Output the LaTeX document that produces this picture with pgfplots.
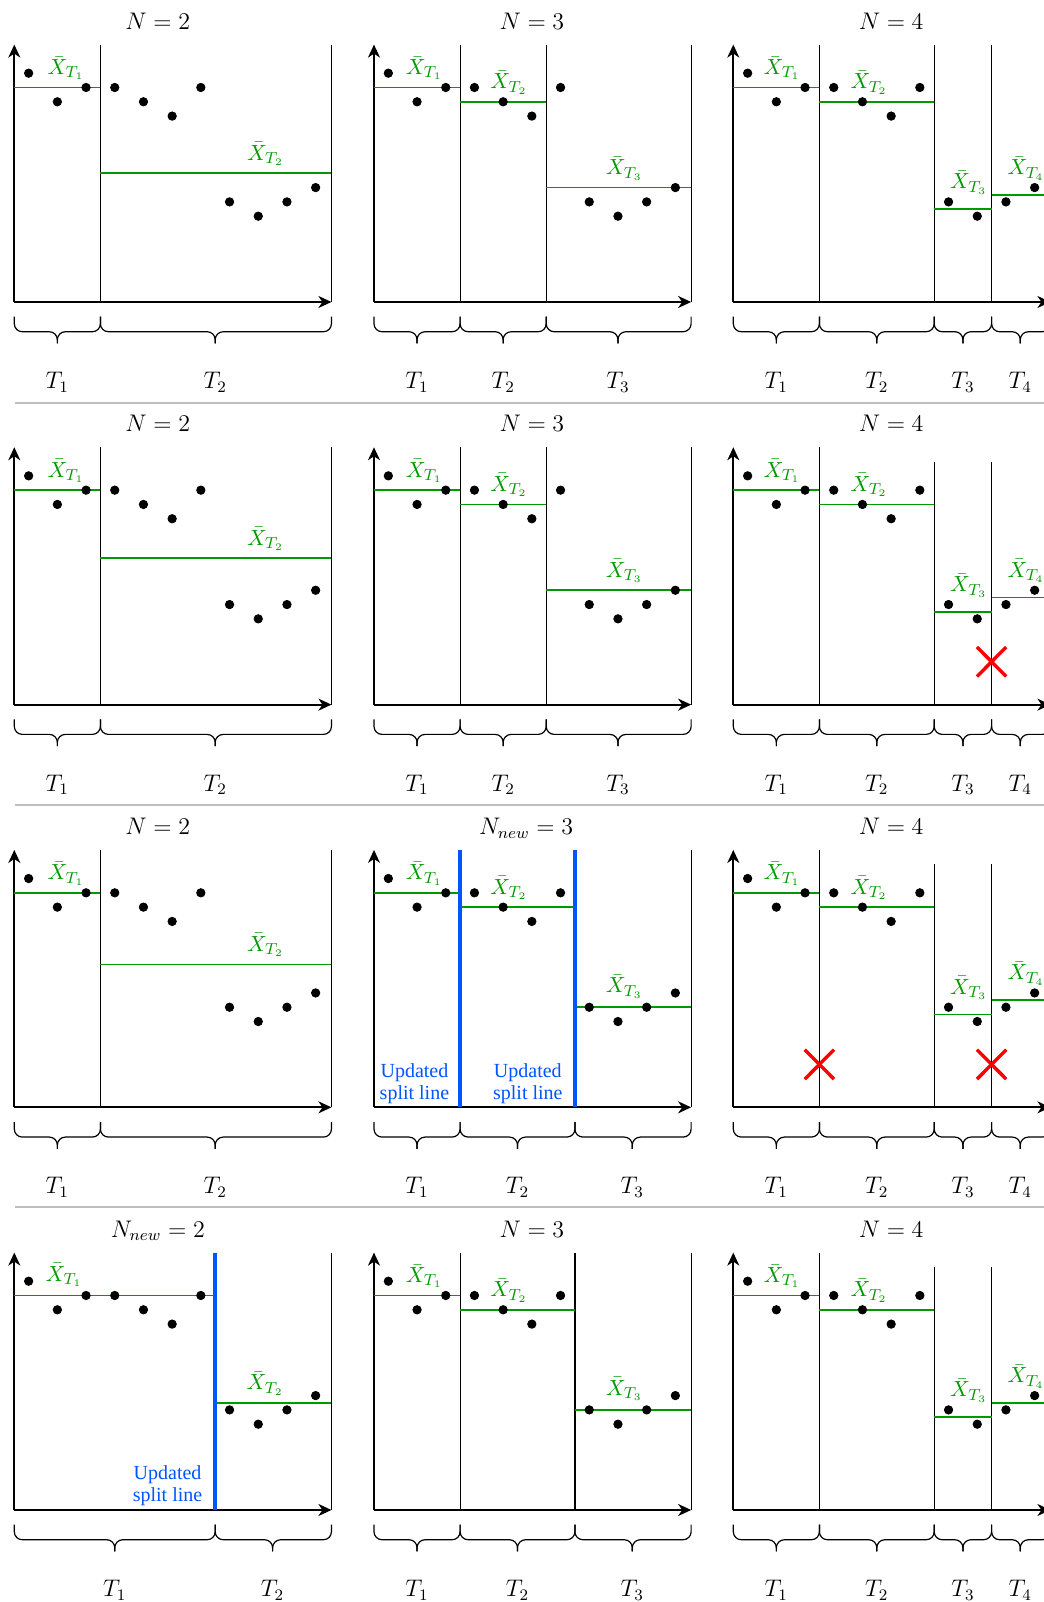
\documentclass[border=0pt]{standalone}
\usepackage{fontspec}
\usepackage{pgfplots}
\pgfplotsset{compat=1.18}
\usepackage{pgfplotstable}
\usetikzlibrary{arrows.meta}
\newfontfamily\timesf{Liberation Serif}
\definecolor{mygreen}{RGB}{0,153,0}
\definecolor{myblue}{RGB}{0,85,255}
\definecolor{sepgray}{RGB}{190,190,190}

\pgfplotstableread{
x y
0.5 16
1.5 14
2.5 15
3.5 15
4.5 14
5.5 13
6.5 15
7.5 7
8.5 6
9.5 7
10.5 8
}\pts

\pgfplotsset{panel/.style={x=14.35pt, y=7.15pt, xmin=0, xmax=11.05, ymin=0, ymax=18,
  hide axis, clip=false, anchor=south west}}

\newcommand{\paxes}{%
 \addplot[black, line width=0.9pt, -{Stealth[length=6.5pt,width=6pt,inset=2pt]}] coordinates {(0,0) (0,18)};
 \addplot[black, line width=0.9pt, -{Stealth[length=6.5pt,width=6pt,inset=2pt]}] coordinates {(0,0) (11.05,0)};
 \addplot[black, line width=0.6pt] coordinates {(11.05,0) (11.05,18)};
}
\newcommand{\pdots}{\addplot[only marks, mark=*, mark size=2.1pt, black] table {\pts};}
\newcommand{\spl}[2]{\addplot[black, line width=0.6pt] coordinates {(#1,0) (#1,#2)};}
\newcommand{\bspl}[1]{\addplot[myblue, line width=1.8pt] coordinates {(#1,0) (#1,18)};}
\newcommand{\mean}[3]{\addplot[mygreen, line width=0.8pt] coordinates {(#1,#3) (#2,#3)};}
\newcommand{\glab}[3]{\node[anchor=south, inner sep=0pt, text=mygreen, font=\fontsize{11}{13}\selectfont] at (axis cs:#1,#2) {$\bar{X}_{T_{#3}}$};}
\newcommand{\tbrace}[4]{%
 \draw[line width=0.6pt, rounded corners=4pt] (axis cs:#1,-1.03) -- (axis cs:#1,-2.08) -- (axis cs:#3,-2.08) -- (axis cs:#3,-2.9);
 \draw[line width=0.6pt, rounded corners=4pt] (axis cs:#2,-1.03) -- (axis cs:#2,-2.08) -- (axis cs:#3,-2.08) -- (axis cs:#3,-2.9);
 \node[anchor=base, inner sep=0pt, font=\fontsize{11.5}{13}\selectfont] at (axis cs:#3,-6.05) {$T_{#4}$};}
\newcommand{\ptitle}[2]{\node[anchor=base, inner sep=0pt, font=\fontsize{11.5}{13}\selectfont] at (axis cs:#1,19.07) {$#2$};}
\newcommand{\btext}[2]{\node[anchor=south, inner sep=0pt, align=center, text=myblue, font=\timesf\fontsize{10}{11.3}\selectfont] at (axis cs:#1,#2) {Updated\\split line};}

\begin{document}
\begin{tikzpicture}
\path[use as bounding box] (0,0) rectangle (522pt,801pt);

% separators
\draw[sepgray, line width=1pt] (7.5pt,599.7pt) -- (522pt,599.7pt);
\draw[sepgray, line width=1pt] (7.5pt,398.5pt) -- (522pt,398.5pt);
\draw[sepgray, line width=1pt] (7.5pt,197.7pt) -- (522pt,197.7pt);

%================ ROW 1 ================
\begin{axis}[panel, at={(7.15pt,650pt)}]
 \paxes
 \spl{3}{18}
 \mean{0}{3}{15} \mean{3}{11.05}{9}
 \pdots
 \glab{1.8}{15.5}{1} \glab{8.75}{9.5}{2}
 \tbrace{0}{3}{1.5}{1} \tbrace{3}{11.05}{7}{2}
 \ptitle{5.0}{N=2}
\end{axis}
\begin{axis}[panel, at={(187pt,650pt)}]
 \paxes
 \spl{3}{18} \spl{6}{18}
 \mean{0}{3}{15} \mean{3}{6}{14} \mean{6}{11.05}{8}
 \pdots
 \glab{1.75}{15.5}{1} \glab{4.7}{14.5}{2} \glab{8.72}{8.5}{3}
 \tbrace{0}{3}{1.5}{1} \tbrace{3}{6}{4.5}{2} \tbrace{6}{11.05}{8.5}{3}
 \ptitle{5.5}{N=3}
\end{axis}
\begin{axis}[panel, at={(366.65pt,650pt)}]
 \paxes
 \spl{3}{18} \spl{7}{18} \spl{9}{18}
 \mean{0}{3}{15} \mean{3}{7}{14} \mean{7}{9}{6.5} \mean{9}{11.05}{7.5}
 \pdots
 \glab{1.7}{15.5}{1} \glab{4.73}{14.5}{2} \glab{8.2}{7.5}{3} \glab{10.2}{8.5}{4}
 \tbrace{0}{3}{1.5}{1} \tbrace{3}{7}{5}{2} \tbrace{7}{9}{8}{3} \tbrace{9}{11.05}{10}{4}
 \ptitle{5.5}{N=4}
\end{axis}

%================ ROW 2 ================
\begin{axis}[panel, at={(7.15pt,448.67pt)}]
 \paxes
 \spl{3}{18}
 \mean{0}{3}{15} \mean{3}{11.05}{10.25}
 \pdots
 \glab{1.8}{15.5}{1} \glab{8.75}{10.75}{2}
 \tbrace{0}{3}{1.5}{1} \tbrace{3}{11.05}{7}{2}
 \ptitle{5.0}{N=2}
\end{axis}
\begin{axis}[panel, at={(187pt,448.67pt)}]
 \paxes
 \spl{3}{18} \spl{6}{18}
 \mean{0}{3}{15} \mean{3}{6}{14} \mean{6}{11.05}{8}
 \pdots
 \glab{1.75}{15.5}{1} \glab{4.7}{14.5}{2} \glab{8.72}{8.5}{3}
 \tbrace{0}{3}{1.5}{1} \tbrace{3}{6}{4.5}{2} \tbrace{6}{11.05}{8.5}{3}
 \ptitle{5.5}{N=3}
\end{axis}
\begin{axis}[panel, at={(366.65pt,448.67pt)}]
 \paxes
 \spl{3}{18} \spl{7}{17} \spl{9}{17}
 \mean{0}{3}{15} \mean{3}{7}{14} \mean{7}{9}{6.5} \mean{9}{11.05}{7.5}
 \pdots
 \glab{1.7}{15.5}{1} \glab{4.73}{14.5}{2} \glab{8.2}{7.5}{3} \glab{10.2}{8.5}{4}
 \addplot[red, line width=1.7pt] coordinates {(8.49,1.97) (9.51,4.03)};
 \addplot[red, line width=1.7pt] coordinates {(8.49,4.03) (9.51,1.97)};
 \tbrace{0}{3}{1.5}{1} \tbrace{3}{7}{5}{2} \tbrace{7}{9}{8}{3} \tbrace{9}{11.05}{10}{4}
 \ptitle{5.5}{N=4}
\end{axis}

%================ ROW 3 ================
\begin{axis}[panel, at={(7.15pt,247.33pt)}]
 \paxes
 \spl{3}{18}
 \mean{0}{3}{15} \mean{3}{11.05}{10}
 \pdots
 \glab{1.8}{15.5}{1} \glab{8.75}{10.5}{2}
 \tbrace{0}{3}{1.5}{1} \tbrace{3}{11.05}{7}{2}
 \ptitle{5.0}{N=2}
\end{axis}
\begin{axis}[panel, at={(187pt,247.33pt)}]
 \paxes
 \mean{0}{3}{15} \mean{3}{7}{14} \mean{7}{11.05}{7}
 \bspl{3} \bspl{7}
 \pdots
 \glab{1.75}{15.5}{1} \glab{4.7}{14.5}{2} \glab{8.72}{7.6}{3}
 \btext{1.41}{0.2} \btext{5.36}{0.2}
 \tbrace{0}{3}{1.5}{1} \tbrace{3}{7}{5}{2} \tbrace{7}{11.05}{9}{3}
 \ptitle{5.3}{N_{new}=3}
\end{axis}
\begin{axis}[panel, at={(366.65pt,247.33pt)}]
 \paxes
 \spl{3}{18} \spl{7}{17} \spl{9}{17}
 \mean{0}{3}{15} \mean{3}{7}{14} \mean{7}{9}{6.5} \mean{9}{11.05}{7.5}
 \pdots
 \glab{1.7}{15.5}{1} \glab{4.73}{14.5}{2} \glab{8.2}{7.5}{3} \glab{10.2}{8.5}{4}
 \addplot[red, line width=1.7pt] coordinates {(2.49,1.97) (3.51,4.03)};
 \addplot[red, line width=1.7pt] coordinates {(2.49,4.03) (3.51,1.97)};
 \addplot[red, line width=1.7pt] coordinates {(8.49,1.97) (9.51,4.03)};
 \addplot[red, line width=1.7pt] coordinates {(8.49,4.03) (9.51,1.97)};
 \tbrace{0}{3}{1.5}{1} \tbrace{3}{7}{5}{2} \tbrace{7}{9}{8}{3} \tbrace{9}{11.05}{10}{4}
 \ptitle{5.5}{N=4}
\end{axis}

%================ ROW 4 ================
\begin{axis}[panel, at={(7.15pt,46pt)}]
 \paxes
 \mean{0}{7}{15} \mean{7}{11.05}{7.5}
 \bspl{7}
 \pdots
 \glab{1.73}{15.6}{1} \glab{8.74}{8.0}{2}
 \btext{5.34}{0.25}
 \tbrace{0}{7}{3.5}{1} \tbrace{7}{11.05}{9}{2}
 \ptitle{5.0}{N_{new}=2}
\end{axis}
\begin{axis}[panel, at={(187pt,46pt)}]
 \paxes
 \spl{3}{18} \spl{7}{18}
 \mean{0}{3}{15} \mean{3}{7}{14} \mean{7}{11.05}{7}
 \pdots
 \glab{1.75}{15.5}{1} \glab{4.7}{14.5}{2} \glab{8.72}{7.6}{3}
 \tbrace{0}{3}{1.5}{1} \tbrace{3}{7}{5}{2} \tbrace{7}{11.05}{9}{3}
 \ptitle{5.5}{N=3}
\end{axis}
\begin{axis}[panel, at={(366.65pt,46pt)}]
 \paxes
 \spl{3}{18} \spl{7}{17} \spl{9}{17}
 \mean{0}{3}{15} \mean{3}{7}{14} \mean{7}{9}{6.5} \mean{9}{11.05}{7.5}
 \pdots
 \glab{1.7}{15.5}{1} \glab{4.73}{14.5}{2} \glab{8.2}{7.5}{3} \glab{10.2}{8.5}{4}
 \tbrace{0}{3}{1.5}{1} \tbrace{3}{7}{5}{2} \tbrace{7}{9}{8}{3} \tbrace{9}{11.05}{10}{4}
 \ptitle{5.5}{N=4}
\end{axis}
\end{tikzpicture}
\end{document}
